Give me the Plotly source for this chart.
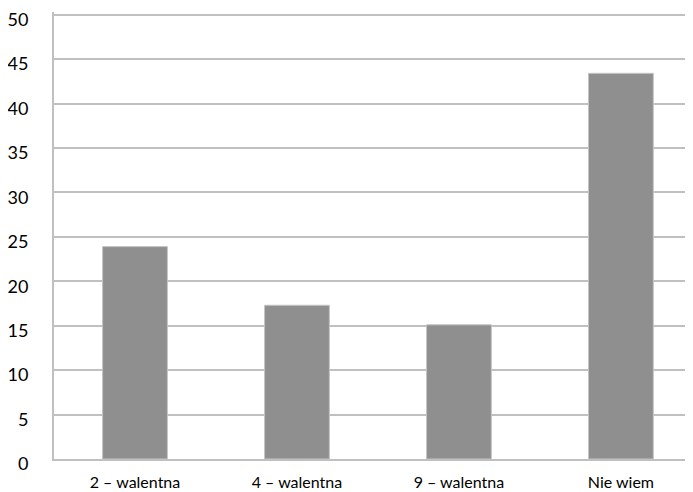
import plotly.graph_objects as go

categories = ["2 – walentna", "4 – walentna", "9 – walentna", "Nie wiem"]
values = [23.9, 17.3, 15.1, 43.4]
y_ticks = [0, 5, 10, 15, 20, 25, 30, 35, 40, 45, 50]

fig = go.Figure(go.Bar(
    x=list(range(len(categories))), y=values, width=0.4,
    marker=dict(color="#8f8f8f", line=dict(color="#c4c4c4", width=1)),
))

# page body has an 8px default margin, so the figure is sized to end at the window edge
fig.update_layout(
    width=685, height=484,
    margin=dict(l=44, r=0, t=4, b=33),
    paper_bgcolor="white", plot_bgcolor="white",
    showlegend=False,
    font=dict(family="Lato, Open Sans, sans-serif", color="#000000"),
    xaxis=dict(range=[-0.5, 3.445], tickvals=list(range(len(categories))),
               ticktext=categories, showgrid=False, zeroline=False,
               showline=True, linecolor="#c0c0c0", linewidth=2,
               tickfont=dict(size=16), ticks="",
               ticklabelstandoff=8),
    yaxis=dict(range=[0, 50.3], tickvals=y_ticks, showgrid=True,
               gridcolor="#c0c0c0", gridwidth=2, zeroline=False,
               showline=True, linecolor="#c0c0c0", linewidth=2,
               tickfont=dict(size=18), ticks="", ticklabelstandoff=20,
               ticklabelshift=5, ticklabeloverflow="allow"),
)

fig.write_html("out.html")
